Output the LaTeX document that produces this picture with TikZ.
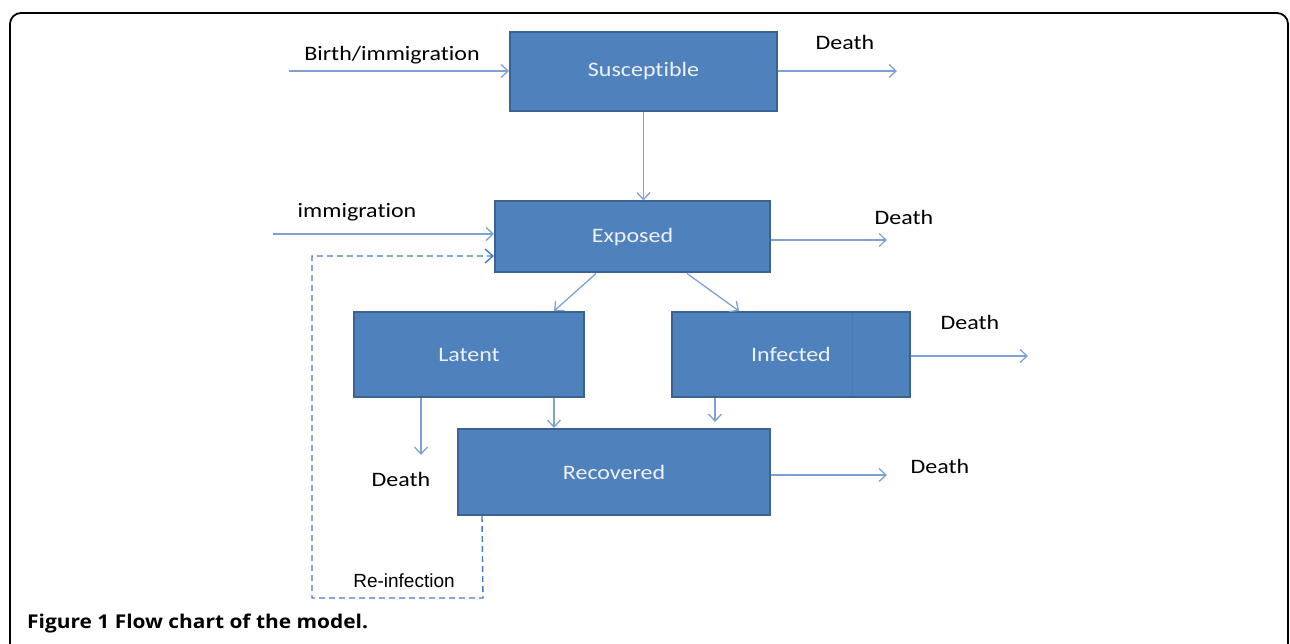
\documentclass[tikz,border=0pt]{standalone}
\usepackage{fontspec}
\setmainfont{Carlito}[FakeStretch=1.17,Ligatures=NoCommon]
\newfontfamily\capfont{Open Sans}[FakeStretch=1.1]
\newfontfamily\arialfont{Liberation Sans}
\usetikzlibrary{arrows.meta,calc}
\definecolor{boxfill}{HTML}{4F81BD}
\definecolor{boxline}{HTML}{3A6292}
\definecolor{arr}{HTML}{7EA1D4}
\definecolor{dsh}{HTML}{4A78C4}
\definecolor{boxtext}{HTML}{EEF2F8}
\tikzset{
  box/.style={draw=boxline, line width=2pt, fill=boxfill, text=boxtext, inner sep=0pt, font=\fontsize{20.5}{24}\selectfont},
  lbl/.style={inner sep=0pt, text=black, font=\fontsize{20.5}{24}\selectfont},
  flow/.style={draw=arr, line width=1.3pt, -{Straight Barb[length=7pt,width=13pt,line width=1.3pt]}},
  reinf/.style={draw=dsh, line width=1.4pt, dash pattern=on 6pt off 4pt, -{Straight Barb[length=8pt,width=14pt,line width=1.4pt]}}
}
\begin{document}
\begin{tikzpicture}[x=1pt,y=-1pt]
\useasboundingbox (0,0) rectangle (1290,644);
% frame
\draw[line width=1.8pt, rounded corners=11pt] (10,660) -- (10,13) -- (1288,13) -- (1288,660);
% boxes
\node[box, minimum width=267pt, minimum height=79pt] (sus) at (643.5,71.5) {Susceptible};
\node[box, minimum width=275pt, minimum height=71pt] (exp) at (632.5,237) {Exposed};
\node[box, minimum width=230pt, minimum height=85pt] (lat) at (469,354.5) {Latent};
\node[box, minimum width=238pt, minimum height=85pt] (inf) at (791,354.5) {Infected};
\draw[boxfill!80!black, line width=0.6pt, opacity=0.25] ($(inf.north west)+(181,2)$) -- ($(inf.south west)+(181,-2)$);
\node[box, minimum width=312pt, minimum height=86pt] (rec) at (614,472) {Recovered};
% labels
\node[lbl] (lbirth) at (392,55) {Birth/immigration};
\node[lbl] (lsd) at (845,42) {Death};
\node[lbl] (limm) at (357,212) {immigration};
\node[lbl] (led) at (904,217) {Death};
\node[lbl] (lid) at (970,322) {Death};
\node[lbl] (lld) at (401,479) {Death};
\node[lbl] (lrd) at (940,466) {Death};
\node[inner sep=0pt, font=\arialfont\fontsize{19}{22}\selectfont] (lre) at (404,581) {Re-infection};
% coordinates
\coordinate (birthstart) at (289,71);
\coordinate (susend) at (897,71);
\coordinate (immstart) at (273,234);
\coordinate (expend) at (887,240);
\coordinate (infend) at (1028,356);
\coordinate (latend) at (421,455);
\coordinate (recend) at (887,475);
% flows
\draw[flow] (birthstart) -- (sus.west |- birthstart);
\draw[flow] (sus.east |- susend) -- (susend);
\draw[flow] (sus.south) -- (exp.north -| sus.south);
\draw[flow] (immstart) -- (exp.west |- immstart);
\draw[flow] (exp.east |- expend) -- (expend);
\draw[flow] ($(exp.south west)+(102,0)$) -- ($(lat.north west)+(201,0)$);
\draw[flow] ($(exp.south west)+(193,0)$) -- ($(inf.north west)+(68,0)$);
\draw[flow] (inf.east |- infend) -- (infend);
\draw[flow] (lat.south -| latend) -- (latend);
\draw[flow] ($(lat.south west)+(201,0)$) -- ($(rec.north west)+(97,0)$);
\draw[flow] ($(inf.south west)+(44,0)$) -- ($(inf.south west)+(44,24)$);
\draw[flow] (rec.east |- recend) -- (recend);
% re-infection
\coordinate (r1) at (483,598);
\coordinate (r2) at (312,598);
\coordinate (r3) at (312,256);
\draw[reinf] ($(rec.south west)+(25,0)$) -- (r1) -- (r2) -- (r3) -- (exp.west |- r3);
% caption
\node[anchor=base west, inner sep=0pt, font=\capfont\bfseries\fontsize{19}{22}\selectfont] (cap) at (27,628) {Figure 1 Flow chart of the model.};
\end{tikzpicture}
\end{document}
